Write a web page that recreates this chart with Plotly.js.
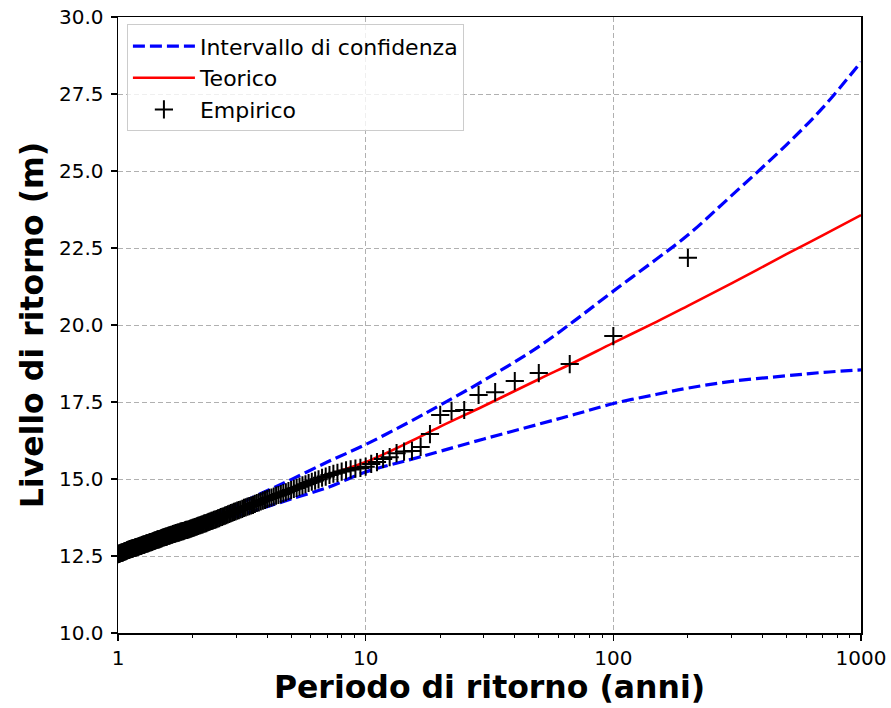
<!DOCTYPE html>
<html>
<head>
<meta charset="utf-8">
<script src="https://cdn.plot.ly/plotly-3.0.1.min.js"></script>
<style>html,body{margin:0;padding:0;background:#fff;}#chart{width:891px;height:708px;}</style>
</head>
<body>
<div id="chart"></div>
<script>
// Return periods (anni) of the empirical points, rank 1..200
const empT = [200,100,66.67,50,40,33.33,28.57,25,22.22,20,18.18,16.67,15.38,14.29,13.33,12.5,11.76,11.11,10.53,10,
9.524,9.091,8.696,8.333,8.000,7.692,7.407,7.143,6.897,6.667,6.452,6.250,6.061,5.882,5.714,5.556,5.405,5.263,5.128,5.000,
4.878,4.762,4.651,4.545,4.444,4.348,4.255,4.167,4.082,4.000,3.922,3.846,3.774,3.704,3.636,3.571,3.509,3.448,3.390,3.333,
3.279,3.226,3.175,3.125,3.077,3.030,2.985,2.941,2.899,2.857,2.817,2.778,2.740,2.703,2.667,2.632,2.597,2.564,2.532,2.500,
2.469,2.439,2.410,2.381,2.353,2.326,2.299,2.273,2.247,2.222,2.198,2.174,2.151,2.128,2.105,2.083,2.062,2.041,2.020,2.000,
1.980,1.961,1.942,1.923,1.905,1.887,1.869,1.852,1.835,1.818,1.802,1.786,1.770,1.754,1.739,1.724,1.709,1.695,1.681,1.667,
1.653,1.639,1.626,1.613,1.600,1.587,1.575,1.563,1.550,1.538,1.527,1.515,1.504,1.493,1.481,1.471,1.460,1.449,1.439,1.429,
1.418,1.408,1.399,1.389,1.379,1.370,1.361,1.351,1.342,1.333,1.325,1.316,1.307,1.299,1.290,1.282,1.274,1.266,1.258,1.250,
1.242,1.235,1.227,1.220,1.212,1.205,1.198,1.190,1.183,1.176,1.170,1.163,1.156,1.149,1.143,1.136,1.130,1.124,1.117,1.111,
1.105,1.099,1.093,1.087,1.081,1.075,1.070,1.064,1.058,1.053,1.047,1.042,1.036,1.031,1.026,1.020,1.015,1.010,1.005,1.000];
// Empirical return levels (m)
const empY = [22.18,19.64,18.73,18.44,18.18,17.82,17.73,17.24,17.21,17.08,16.46,16.04,15.91,15.89,15.84,15.71,15.65,15.55,15.49,15.40,
15.36,15.34,15.31,15.28,15.24,15.20,15.17,15.13,15.08,15.04,14.99,14.95,14.91,14.87,14.83,14.79,14.75,14.71,14.68,14.64,
14.61,14.57,14.54,14.51,14.48,14.46,14.43,14.40,14.38,14.35,14.32,14.30,14.27,14.24,14.22,14.19,14.16,14.14,14.12,14.10,
14.08,14.06,14.03,14.01,13.99,13.97,13.95,13.93,13.91,13.89,13.87,13.85,13.83,13.81,13.79,13.77,13.76,13.73,13.72,13.70,
13.68,13.67,13.65,13.64,13.62,13.61,13.59,13.57,13.56,13.55,13.53,13.52,13.50,13.49,13.48,13.46,13.45,13.44,13.42,13.41,
13.40,13.39,13.37,13.36,13.35,13.35,13.34,13.32,13.31,13.31,13.29,13.29,13.27,13.26,13.26,13.24,13.24,13.22,13.22,13.21,
13.19,13.19,13.18,13.16,13.16,13.15,13.13,13.13,13.12,13.11,13.10,13.10,13.08,13.07,13.06,13.05,13.04,13.04,13.03,13.02,
13.01,13.00,12.99,12.98,12.97,12.96,12.95,12.95,12.94,12.93,12.92,12.91,12.91,12.90,12.89,12.88,12.87,12.87,12.86,12.85,
12.84,12.83,12.83,12.82,12.81,12.80,12.80,12.79,12.78,12.78,12.77,12.76,12.76,12.75,12.74,12.74,12.73,12.72,12.72,12.71,
12.70,12.70,12.69,12.68,12.67,12.66,12.66,12.65,12.64,12.63,12.62,12.62,12.61,12.60,12.60,12.59,12.58,12.58,12.57,12.56];

// Curves (return period, level)
const curveT = [1,1.2,1.5,2,3,4,5,7,10,15,20,30,50,70,100,150,200,300,500,700,1000];
const teoricoY = [12.56,12.80,13.08,13.42,13.97,14.36,14.66,15.12,15.55,16.20,16.70,17.37,18.24,18.80,19.42,20.11,20.62,21.35,22.30,22.91,23.57];
const upperY   = [12.56,12.85,13.10,13.50,14.15,14.62,14.98,15.55,16.12,16.85,17.40,18.20,19.30,20.15,21.10,22.15,22.92,24.20,25.85,27.05,28.54];
const lowerY   = [12.56,12.72,12.98,13.32,13.78,14.10,14.35,14.72,15.23,15.62,15.90,16.30,16.78,17.10,17.45,17.75,17.95,18.17,18.35,18.46,18.54];

const xTickVals = [1,10,100,1000];
const xTickText = ['1','10','100','1000'];
const yTickVals = [10,12.5,15,17.5,20,22.5,25,27.5,30];

const minorVals = [];
[1,10,100].forEach(d => { for (let k = 2; k <= 9; k++) minorVals.push(d*k); });

const FONT = 'DejaVu Sans, Liberation Sans, sans-serif';
const blue = '#0000ff';

const traces = [
  {x: curveT, y: upperY, type: 'scatter', mode: 'lines', name: 'Intervallo di confidenza',
   line: {color: blue, width: 3.2, dash: '12px,5px', shape: 'spline'}, legendrank: 1},
  {x: curveT, y: lowerY, type: 'scatter', mode: 'lines', name: 'Intervallo di confidenza', showlegend: false,
   line: {color: blue, width: 3.2, dash: '12px,5px', shape: 'spline'}},
  {x: curveT, y: teoricoY, type: 'scatter', mode: 'lines', name: 'Teorico',
   line: {color: '#ff0000', width: 2.6, shape: 'spline'}, legendrank: 2},
  {x: empT, y: empY, type: 'scatter', mode: 'markers', name: 'Empirico',
   marker: {symbol: 'cross-thin-open', size: 13, color: '#000', line: {color: '#000', width: 2}}, legendrank: 3}
];

const layout = {
  width: 891, height: 708,
  margin: {l: 118, r: 30, t: 17, b: 75, pad: 0},
  paper_bgcolor: '#fff', plot_bgcolor: '#fff',
  font: {family: FONT, size: 20, color: '#000'},
  showlegend: true,
  legend: {x: 0.012, y: 0.988, xanchor: 'left', yanchor: 'top',
    bgcolor: 'rgba(255,255,255,0.8)', bordercolor: '#cccccc', borderwidth: 1,
    itemwidth: 62,
    font: {family: FONT, size: 22, color: '#000'}, traceorder: 'normal'},
  xaxis: {
    type: 'log', range: [0, 3],
    tickvals: xTickVals, ticktext: xTickText,
    ticks: 'outside', ticklen: 6, tickwidth: 1.3, tickcolor: '#000',
    showline: true, linecolor: '#000', linewidth: 1.5, mirror: true,
    showgrid: true, gridcolor: '#b0b0b0', gridwidth: 1, griddash: '5px,3px',
    zeroline: false,
    tickfont: {family: FONT, size: 20, color: '#000'},
    minor: {tickvals: minorVals, ticks: 'outside', ticklen: 3.5, tickwidth: 1, tickcolor: '#000', showgrid: false},
    title: {text: '<b>Periodo di ritorno (anni)</b>', font: {family: FONT, size: 31.5, color: '#000'}, standoff: 7}
  },
  yaxis: {
    range: [10, 30],
    tickvals: yTickVals, tickformat: '.1f',
    ticks: 'outside', ticklen: 6, tickwidth: 1.3, tickcolor: '#000',
    ticklabelstandoff: 3,
    showline: true, linecolor: '#000', linewidth: 1.5, mirror: true,
    showgrid: true, gridcolor: '#b0b0b0', gridwidth: 1, griddash: '5px,3px',
    zeroline: false,
    tickfont: {family: FONT, size: 20, color: '#000'},
    title: {text: '<b>Livello di ritorno (m)</b>', font: {family: FONT, size: 31.5, color: '#000'}, standoff: 6}
  }
};

Plotly.newPlot('chart', traces, layout, {staticPlot: true, displayModeBar: false});
</script>
</body>
</html>
